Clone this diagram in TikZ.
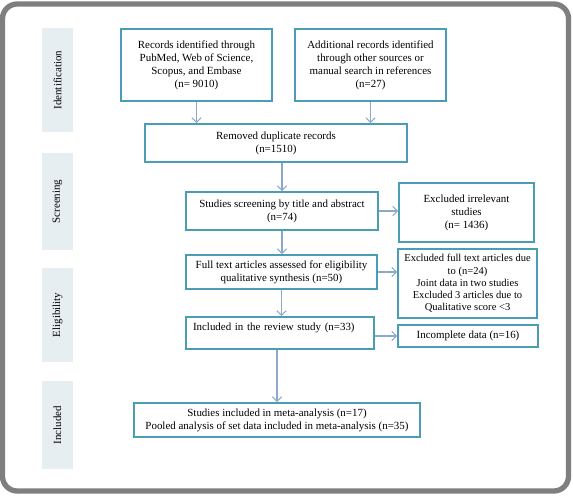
\documentclass[tikz,border=0pt]{standalone}
\usepackage{fontspec}
\setmainfont{Liberation Serif}
\usetikzlibrary{arrows.meta,calc}
\definecolor{framegray}{HTML}{7F7F7F}
\definecolor{boxteal}{HTML}{4A9DB5}
\definecolor{arrblue}{HTML}{8DA9C8}
\definecolor{panelbg}{HTML}{E7EEF1}
\begin{document}
\begin{tikzpicture}[x=0.75pt,y=-0.75pt,
  every node/.style={font=\fontsize{8.2}{9.8}\selectfont},
  box/.style={draw=boxteal,line width=1.6pt*0.75,fill=white,align=center,inner sep=0pt},
  panel/.style={fill=panelbg,draw=none,inner sep=0pt},
  arr/.style={draw=arrblue,line width=0.8pt,-{Straight Barb[length=3.5pt,width=7pt]}}
]
\useasboundingbox (0,0) rectangle (573,496);
\draw[framegray,line width=4pt,rounded corners=11pt] (2.5,4) rectangle (568.5,491);
% panels
\node[panel,minimum width=31*0.75pt,minimum height=104*0.75pt] (p1) at (57.5,80) {};
\node[panel,minimum width=31*0.75pt,minimum height=97*0.75pt] (p2) at (57.5,201.5) {};
\node[panel,minimum width=31*0.75pt,minimum height=94*0.75pt] (p3) at (57.5,315) {};
\node[panel,minimum width=31*0.75pt,minimum height=88*0.75pt] (p4) at (57.5,425) {};
\node[rotate=90] (l1) at (p1) {Identification};
\node[rotate=90] (l2) at (p2) {Screening};
\node[rotate=90] (l3) at (p3) {Eligibility};
\node[rotate=90] (l4) at (p4) {Included};
% boxes
\node[box,minimum width=151*0.75pt,minimum height=72*0.75pt] (n1) at (196.5,65)
  {Records identified through\\PubMed, Web of Science,\\Scopus, and Embase\\(n= 9010)};
\node[box,minimum width=151*0.75pt,minimum height=72*0.75pt] (n2) at (370.5,65)
  {Additional records identified\\through other sources or\\manual search in references\\(n=27)};
\node[box,minimum width=262*0.75pt,minimum height=38*0.75pt] (n3) at (276,143)
  {Removed duplicate records\\(n=1510)};
\node[box,minimum width=192*0.75pt,minimum height=38*0.75pt] (n4) at (282,211)
  {Studies screening by title and abstract\\(n=74)};
\node[box,minimum width=135*0.75pt,minimum height=59*0.75pt] (n5) at (466.5,212.5)
  {Excluded irrelevant\\studies\\(n= 1436)};
\node[box,minimum width=191*0.75pt,minimum height=34*0.75pt] (n6) at (281.5,272)
  {Full text articles assessed for eligibility\\qualitative synthesis (n=50)};
\node[box,minimum width=139*0.75pt,minimum height=69*0.75pt,font=\fontsize{7.9}{9.2}\selectfont] (n7) at (467.5,283.5)
  {Excluded full text articles due\\to (n=24)\\Joint data in two studies\\Excluded 3 articles due to\\Qualitative score <3};
\node[box,minimum width=188*0.75pt,minimum height=32*0.75pt,text width=174*0.75pt,align=left] (n8) at (280,333)
  {Included in the review study (n=33)\\[0pt]\mbox{}};
\node[box,minimum width=140*0.75pt,minimum height=22*0.75pt] (n9) at (468,336)
  {Incomplete data (n=16)};
\node[box,minimum width=286*0.75pt,minimum height=34*0.75pt] (n10) at (277,420)
  {Studies included in meta-analysis (n=17)\\Pooled analysis of set data included in meta-analysis (n=35)};
% arrows
\draw[arr] (n1.south) -- (n1.south |- n3.north);
\draw[arr] (n2.south) -- (n2.south |- n3.north);
\draw[arr] (n4.north |- n3.south) -- (n4.north);
\draw[arr] (n4.east) -- (n4.east -| n5.west);
\draw[arr] (n4.south) -- (n4.south |- n6.north);
\draw[arr] (n6.east) -- (n6.east -| n7.west);
\draw[arr] (n6.south) -- (n6.south |- n8.north);
\draw[arr] (n9.west -| n8.east) -- (n9.west);
\draw[arr] (n10.north |- n8.south) -- (n10.north);
\end{tikzpicture}
\end{document}
